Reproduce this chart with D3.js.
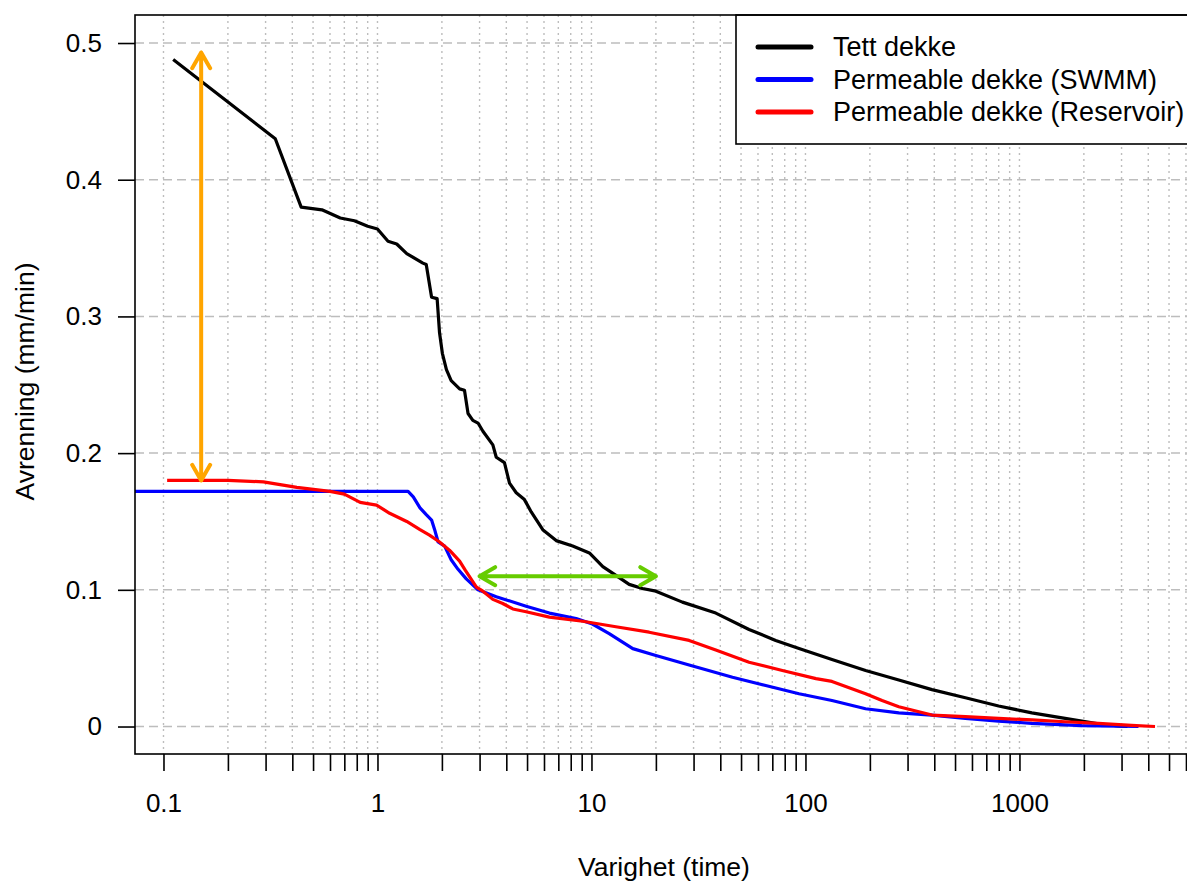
<!DOCTYPE html>
<html>
<head>
<meta charset="utf-8">
<script src="https://cdn.jsdelivr.net/npm/d3@7"></script>
<style>
  body { margin: 0; background: #fff; }
  svg { display: block; font-family: "Liberation Sans", Arial, sans-serif; }
</style>
</head>
<body>
<div id="chart"></div>
<script>
// varighetskurver: [varighet (timer), avrenning (mm/min)]
const tettDekke = [
    [0.111, 0.488], [0.333, 0.430], [0.44, 0.380], [0.55, 0.378], [0.67, 0.372],
    [0.78, 0.370], [0.90, 0.366], [1.0, 0.364], [1.12, 0.355], [1.23, 0.353],
    [1.37, 0.346], [1.63, 0.339], [1.69, 0.338], [1.79, 0.314], [1.90, 0.313],
    [1.95, 0.288], [2.01, 0.273], [2.10, 0.261], [2.21, 0.253], [2.42, 0.247],
    [2.55, 0.246], [2.65, 0.229], [2.79, 0.224], [2.95, 0.222], [3.11, 0.216],
    [3.46, 0.206], [3.59, 0.197], [3.92, 0.193], [4.14, 0.178], [4.45, 0.171],
    [4.86, 0.166], [5.23, 0.157], [5.92, 0.144], [6.84, 0.136], [8.17, 0.132],
    [9.78, 0.127], [11.3, 0.117], [12.6, 0.112], [15.0, 0.104], [17.3, 0.101],
    [20.0, 0.099], [26.6, 0.091], [38.1, 0.083], [54.5, 0.071], [72.6, 0.063],
    [93.3, 0.057], [133, 0.049], [191, 0.041], [273, 0.034], [390, 0.027],
    [559, 0.021], [799, 0.015], [1143, 0.010], [1635, 0.006], [2338, 0.002],
    [2898, 0.0004], [3200, 0]
];

const permeableSwmm = [
    [0.0167, 0.172], [1.39, 0.172], [1.47, 0.168], [1.58, 0.160], [1.69, 0.155],
    [1.79, 0.151], [1.85, 0.144], [1.92, 0.135], [2.06, 0.132], [2.21, 0.122],
    [2.38, 0.115], [2.60, 0.108], [2.95, 0.100], [3.59, 0.095], [4.95, 0.088],
    [6.36, 0.083], [8.48, 0.079], [10.1, 0.075], [12.1, 0.068], [15.6, 0.057],
    [20.0, 0.052], [28.6, 0.045], [45.6, 0.036], [65.2, 0.030], [93.3, 0.024],
    [133, 0.019], [191, 0.013], [273, 0.010], [390, 0.0084], [559, 0.006],
    [799, 0.004], [1143, 0.0023], [1954, 0.0006], [3600, 0]
];

const permeableReservoir = [
    [0.104, 0.180], [0.20, 0.180], [0.293, 0.179], [0.42, 0.175], [0.60, 0.172],
    [0.70, 0.170], [0.83, 0.164], [0.99, 0.162], [1.14, 0.156], [1.37, 0.150],
    [1.58, 0.144], [1.75, 0.140], [1.95, 0.135], [2.17, 0.129], [2.42, 0.121],
    [2.58, 0.114], [2.90, 0.102], [3.11, 0.099], [3.46, 0.093], [3.85, 0.090],
    [4.29, 0.086], [4.95, 0.084], [6.36, 0.080], [9.10, 0.077], [13.0, 0.073],
    [18.6, 0.069], [28.6, 0.063], [38.1, 0.056], [54.5, 0.047], [78.0, 0.041],
    [112, 0.035], [133, 0.033], [191, 0.024], [228, 0.019], [273, 0.0145],
    [390, 0.0084], [559, 0.0072], [799, 0.006], [1143, 0.0048], [1635, 0.0035],
    [2338, 0.0023], [3344, 0.0009], [4300, 0]
];

// piler: toppavrenning og forsinkelse
const toppPil = [[0.15, 0.18], [0.15, 0.493]];
const varighetPil = [[3, 0.11], [20, 0.11]];

const xLabels = [0.1, 1, 10, 100, 1000];
const yTicks = [0, 0.1, 0.2, 0.3, 0.4, 0.5];

const serier = [
    {navn: "Tett dekke", data: tettDekke, farge: "black"},
    {navn: "Permeable dekke (SWMM)", data: permeableSwmm, farge: "#0000ff"},
    {navn: "Permeable dekke (Reservoir)", data: permeableReservoir, farge: "#ff0000"}
];

const margin = {top: 15, right: 0, bottom: 128, left: 135};
const width = 1055;
const height = 739;

const svg = d3.select("#chart").append("svg")
    .attr("width", 1187)
    .attr("height", 882);

const g = svg.append("g")
    .attr("transform", "translate(" + margin.left + "," + margin.top + ")");

const x = d3.scaleLog()
    .domain([0.0736, 6266])
    .range([0, width]);

const y = d3.scaleLinear()
    .domain([-0.0201, 0.5205])
    .range([height, 0]);

const xTicks = x.ticks().filter(t => t >= 0.1 - 1e-9);

g.append("clipPath")
    .attr("id", "plotClip")
    .append("rect")
    .attr("width", width)
    .attr("height", height);

// rutenett
g.selectAll(".vgrid")
    .data(xTicks)
    .enter().append("line")
    .attr("class", "vgrid")
    .attr("x1", d => x(d))
    .attr("x2", d => x(d))
    .attr("y1", 0)
    .attr("y2", height)
    .attr("stroke", "#bdbdbd")
    .attr("stroke-width", 1.4)
    .attr("stroke-dasharray", "2,4");

g.selectAll(".hgrid")
    .data(yTicks)
    .enter().append("line")
    .attr("class", "hgrid")
    .attr("x1", 0)
    .attr("x2", width)
    .attr("y1", d => y(d))
    .attr("y2", d => y(d))
    .attr("stroke", "#bdbdbd")
    .attr("stroke-width", 1.5)
    .attr("stroke-dasharray", "9,5");

// akser
const xAxis = d3.axisBottom(x)
    .tickValues(xTicks)
    .tickSize(17)
    .tickPadding(23)
    .tickFormat(d => xLabels.some(v => Math.abs(v - d) / v < 1e-6) ? d3.format("~g")(d) : "");

const xg = g.append("g")
    .attr("transform", "translate(0," + height + ")")
    .call(xAxis);

const yAxis = d3.axisLeft(y)
    .tickValues(yTicks)
    .tickSize(17)
    .tickPadding(16)
    .tickFormat(d3.format("~g"));

const yg = g.append("g").call(yAxis);

[xg, yg].forEach(a => {
    a.select(".domain").remove();
    a.selectAll("line").attr("stroke", "black").attr("stroke-width", 1.6);
    a.selectAll("text")
        .attr("fill", "black")
        .style("font-size", "26px")
        .style("font-family", "'Liberation Sans', Arial, sans-serif");
});

// kurver
const line = d3.line()
    .x(d => x(d[0]))
    .y(d => y(d[1]));

g.append("g")
    .attr("clip-path", "url(#plotClip)")
    .selectAll(".kurve")
    .data(serier)
    .enter().append("path")
    .attr("class", "kurve")
    .attr("d", d => line(d.data))
    .attr("fill", "none")
    .attr("stroke", d => d.farge)
    .attr("stroke-width", 3.2)
    .attr("stroke-linejoin", "round");

// dobbeltpil med åpne spisser
function pil(punkter, farge) {
    const p0 = [x(punkter[0][0]), y(punkter[0][1])];
    const p1 = [x(punkter[1][0]), y(punkter[1][1])];
    const ang = Math.atan2(p1[1] - p0[1], p1[0] - p0[0]);
    const len = 18, spiss = Math.PI / 6;
    const hode = (p, a) => {
        const l = [p[0] - len * Math.cos(a - spiss), p[1] - len * Math.sin(a - spiss)];
        const r = [p[0] - len * Math.cos(a + spiss), p[1] - len * Math.sin(a + spiss)];
        return "M" + l + "L" + p + "L" + r;
    };
    g.append("path")
        .attr("d", "M" + p0 + "L" + p1 + hode(p1, ang) + hode(p0, ang + Math.PI))
        .attr("fill", "none")
        .attr("stroke", farge)
        .attr("stroke-width", 4)
        .attr("stroke-linecap", "round")
        .attr("stroke-linejoin", "round");
}

pil(toppPil, "#ffa500");
pil(varighetPil, "#66cc00");

// tegnforklaring
const legend = g.append("g")
    .attr("transform", "translate(601,0)");

legend.append("rect")
    .attr("width", 500)
    .attr("height", 129)
    .attr("fill", "white")
    .attr("stroke", "black")
    .attr("stroke-width", 1.6);

legend.selectAll(".lg-line")
    .data(serier)
    .enter().append("line")
    .attr("x1", 22)
    .attr("x2", 75)
    .attr("y1", (d, i) => 32 + i * 32.5)
    .attr("y2", (d, i) => 32 + i * 32.5)
    .attr("stroke", d => d.farge)
    .attr("stroke-width", 5)
    .attr("stroke-linecap", "round");

legend.selectAll(".lg-text")
    .data(serier)
    .enter().append("text")
    .attr("x", 97)
    .attr("y", (d, i) => 32 + i * 32.5)
    .attr("dy", "0.35em")
    .style("font-size", "27px")
    .text(d => d.navn);

// rammen rundt plottet
g.append("rect")
    .attr("width", width)
    .attr("height", height)
    .attr("fill", "none")
    .attr("stroke", "black")
    .attr("stroke-width", 1.6);

// aksetitler
g.append("text")
    .attr("x", 529)
    .attr("y", height + 122)
    .attr("text-anchor", "middle")
    .style("font-size", "26.5px")
    .text("Varighet (time)");

svg.append("text")
    .attr("transform", "translate(34," + (margin.top + height / 2 - 3) + ") rotate(-90)")
    .attr("text-anchor", "middle")
    .style("font-size", "26.5px")
    .text("Avrenning (mm/min)");
</script>
</body>
</html>
